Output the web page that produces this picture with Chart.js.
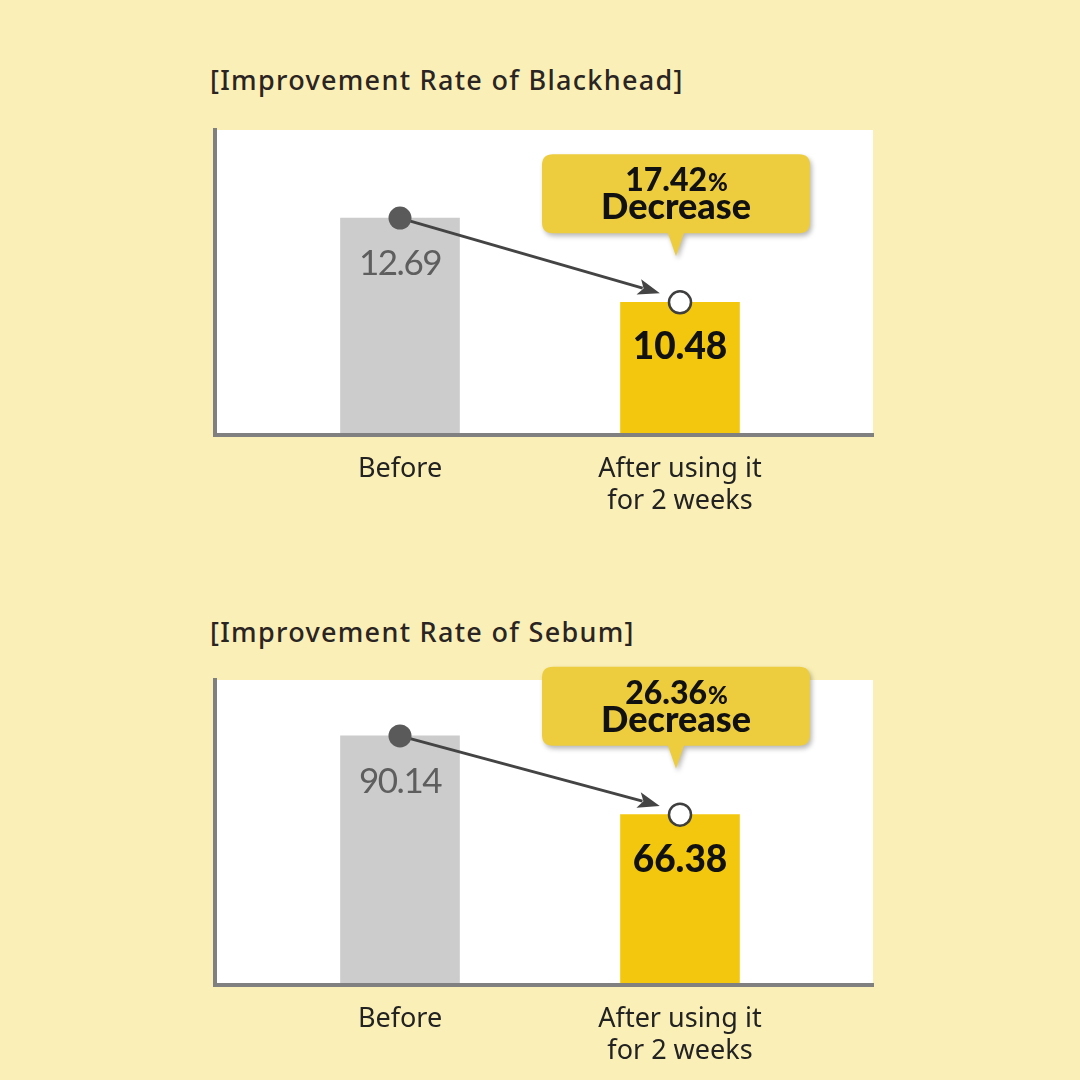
<!DOCTYPE html>
<html>
<head>
<meta charset="utf-8">
<script src="https://cdn.jsdelivr.net/npm/chart.js@4.4.1/dist/chart.umd.min.js"></script>
<style>
  html, body { margin: 0; padding: 0; }
  body { width: 1080px; height: 1080px; background: #FAF0B7; position: relative; overflow: hidden; }
  .title { position: absolute; left: 210px; font: 500 27px "Noto Sans", sans-serif; letter-spacing: 1.3px; color: #2a2422; line-height: 36px; white-space: nowrap; }
  canvas { position: absolute; left: 0; }
</style>
</head>
<body>
<div class="title" id="t1" style="top:62px"></div>
<div class="title" id="t2" style="top:614px"></div>
<canvas id="c1" width="1080" height="530" style="top:0px"></canvas>
<canvas id="c2" width="1080" height="530" style="top:550px"></canvas>
<script>
// ---- data ----
const chartTitles = ['[Improvement Rate of Blackhead]', '[Improvement Rate of Sebum]'];
const categories = [['Before'], ['After using it', 'for 2 weeks']];
const blackheadValues = [12.69, 10.48];
const sebumValues = [90.14, 66.38];
const decreasePercents = [17.42, 26.36];
const decreaseWord = 'Decrease';
const blackheadRange = [7, 15];
const sebumRange = [15, 107];

// ---- styles ----
const BAR_COLORS = ['#CCCCCC', '#F4C70F'];
const AXIS_GRAY = '#808080';
const LINE_GRAY = '#444444';

document.getElementById('t1').textContent = chartTitles[0];
document.getElementById('t2').textContent = chartTitles[1];

const whiteBg = {
  id: 'whiteBg',
  beforeDraw(chart) {
    const a = chart.chartArea, ctx = chart.ctx;
    ctx.save();
    ctx.fillStyle = '#FFFFFF';
    ctx.fillRect(a.left, a.top, a.right - a.left, a.bottom - a.top);
    ctx.restore();
  }
};

const arrowPlugin = {
  id: 'arrowPlugin',
  beforeDatasetDraw(chart, args) {
    if (args.index !== 1) return;
    const pts = chart.getDatasetMeta(1).data;
    const p0 = pts[0], p1 = pts[1];
    const ctx = chart.ctx;
    const dx = p1.x - p0.x, dy = p1.y - p0.y;
    const len = Math.hypot(dx, dy);
    const ux = dx / len, uy = dy / len;
    const tipX = p1.x - ux * 21, tipY = p1.y - uy * 21 - 3;
    const headLen = 22, headW = 8;
    const bx = tipX - ux * headLen, by = tipY - uy * headLen;
    ctx.save();
    ctx.strokeStyle = LINE_GRAY;
    ctx.fillStyle = LINE_GRAY;
    ctx.lineWidth = 3;
    ctx.beginPath();
    ctx.moveTo(p0.x, p0.y);
    ctx.lineTo(bx + ux * 4, by + uy * 4);
    ctx.stroke();
    ctx.beginPath();
    ctx.moveTo(tipX, tipY);
    ctx.lineTo(bx - uy * headW, by + ux * headW);
    ctx.lineTo(bx + ux * 5, by + uy * 5);
    ctx.lineTo(bx + uy * headW, by - ux * headW);
    ctx.closePath();
    ctx.fill();
    ctx.restore();
  }
};

function roundRectPath(ctx, x, y, w, h, r, tailX, tailW, tailH) {
  ctx.beginPath();
  ctx.moveTo(x + r, y);
  ctx.lineTo(x + w - r, y);
  ctx.quadraticCurveTo(x + w, y, x + w, y + r);
  ctx.lineTo(x + w, y + h - r);
  ctx.quadraticCurveTo(x + w, y + h, x + w - r, y + h);
  ctx.lineTo(tailX + tailW / 2, y + h);
  ctx.lineTo(tailX, y + h + tailH);
  ctx.lineTo(tailX - tailW / 2, y + h);
  ctx.lineTo(x + r, y + h);
  ctx.quadraticCurveTo(x, y + h, x, y + h - r);
  ctx.lineTo(x, y + r);
  ctx.quadraticCurveTo(x, y, x + r, y);
  ctx.closePath();
}

function labelsPlugin(decrease) {
  return {
    id: 'labelsPlugin',
    afterDatasetsDraw(chart) {
      const ctx = chart.ctx;
      const bars = chart.getDatasetMeta(0).data;
      const vals = chart.data.datasets[0].data;
      ctx.save();
      ctx.textAlign = 'center';
      ctx.textBaseline = 'middle';
      // before value
      ctx.fillStyle = '#5E5E5E';
      ctx.font = '400 35px Lato, sans-serif';
      ctx.letterSpacing = '-1.5px';
      ctx.fillText(vals[0].y.toFixed(2), bars[0].x, bars[0].y + 46);
      // after value
      ctx.fillStyle = '#111111';
      ctx.font = '900 37px Lato, sans-serif';
      ctx.letterSpacing = '0px';
      ctx.fillText(vals[1].y.toFixed(2), bars[1].x, bars[1].y + 45);

      // callout
      const p1 = chart.getDatasetMeta(1).data[1];
      const cx = p1.x - 4;
      const tipY = p1.y - 46;
      const tailH = 23, bh = 79, bw = 268;
      const top = tipY - tailH - bh;
      ctx.save();
      ctx.shadowColor = 'rgba(0,0,0,0.28)';
      ctx.shadowBlur = 5;
      ctx.shadowOffsetX = 2;
      ctx.shadowOffsetY = 3;
      ctx.fillStyle = '#EDCD3E';
      roundRectPath(ctx, cx - bw / 2, top, bw, bh, 11, cx, 16, tailH);
      ctx.fill();
      ctx.restore();

      ctx.fillStyle = '#111111';
      const numTxt = decrease.toFixed(2);
      ctx.font = '900 32px Lato, sans-serif';
      const w1 = ctx.measureText(numTxt).width;
      ctx.font = '900 24px Lato, sans-serif';
      const w2 = ctx.measureText('%').width;
      const startX = cx - (w1 + w2) / 2;
      ctx.textAlign = 'left';
      ctx.textBaseline = 'alphabetic';
      ctx.font = '900 32px Lato, sans-serif';
      ctx.fillText(numTxt, startX, top + 37);
      ctx.font = '900 24px Lato, sans-serif';
      ctx.fillText('%', startX + w1 + 1, top + 37);
      ctx.textAlign = 'center';
      ctx.font = '900 36px Lato, sans-serif';
      ctx.fillText(decreaseWord, cx, top + 65);
      ctx.restore();
    }
  };
}

function makeChart(id, values, range, decrease) {
  const pts = values.map((v, i) => ({ x: i, y: v }));
  return new Chart(document.getElementById(id), {
    data: {
      datasets: [
        {
          type: 'bar',
          data: pts,
          backgroundColor: BAR_COLORS,
          barThickness: 119,
          order: 2
        },
        {
          type: 'line',
          data: pts,
          showLine: false,
          pointRadius: [11.5, 11],
          pointBackgroundColor: ['#5A5A5A', '#FFFFFF'],
          pointBorderColor: ['#5A5A5A', '#3F3F3F'],
          pointBorderWidth: [0, 2.5],
          order: 1
        }
      ]
    },
    options: {
      responsive: false,
      animation: false,
      layout: { padding: { top: 130, left: 215, right: 207, bottom: 0 } },
      plugins: { legend: { display: false }, tooltip: { enabled: false } },
      scales: {
        x: {
          type: 'linear',
          offset: false,
          min: -0.6607,
          max: 1.6893,
          grid: { display: false, offset: false },
          border: { display: true, color: AXIS_GRAY, width: 4, z: 1 },
          afterBuildTicks(scale) { scale.ticks = categories.map((_, i) => ({ value: i })); },
          afterFit(scale) { scale.height = 95; },
          ticks: {
            autoSkip: false,
            maxRotation: 0,
            padding: 10,
            color: '#222222',
            font: { family: '"Noto Sans", sans-serif', size: 27, lineHeight: 1.2 },
            callback: (v) => categories[v]
          }
        },
        y: {
          min: range[0],
          max: range[1],
          grid: { display: false },
          ticks: { display: false },
          border: { display: true, color: AXIS_GRAY, width: 4, z: 1 },
          afterFit(scale) { scale.width = 0; }
        }
      }
    },
    plugins: [whiteBg, arrowPlugin, labelsPlugin(decrease)]
  });
}

makeChart('c1', blackheadValues, blackheadRange, decreasePercents[0]);
makeChart('c2', sebumValues, sebumRange, decreasePercents[1]);
</script>
</body>
</html>
